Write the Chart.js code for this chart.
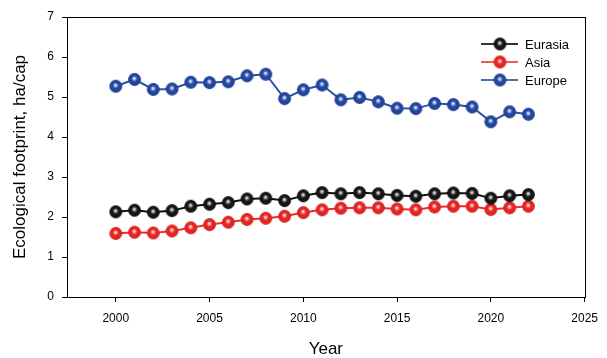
<!DOCTYPE html>
<html>
<head>
<meta charset="utf-8">
<script src="https://cdn.jsdelivr.net/npm/chart.js@4/dist/chart.umd.min.js"></script>
<style>
  html, body { margin: 0; padding: 0; background: #fff; }
  #wrap { width: 607px; height: 358px; }
</style>
</head>
<body>
<div id="wrap"><canvas id="c" width="607" height="358"></canvas></div>
<script>
// Ecological footprint per capita, 2000-2022
const years = [2000, 2001, 2002, 2003, 2004, 2005, 2006, 2007, 2008, 2009, 2010, 2011,
               2012, 2013, 2014, 2015, 2016, 2017, 2018, 2019, 2020, 2021, 2022];
const eurasia = [2.13, 2.17, 2.12, 2.16, 2.27, 2.32, 2.36, 2.45, 2.47, 2.41, 2.53, 2.61,
                 2.58, 2.61, 2.58, 2.54, 2.52, 2.58, 2.60, 2.59, 2.47, 2.53, 2.56];
const asia = [1.59, 1.62, 1.60, 1.65, 1.73, 1.81, 1.87, 1.94, 1.97, 2.02, 2.11, 2.18,
              2.22, 2.23, 2.23, 2.20, 2.18, 2.25, 2.27, 2.27, 2.19, 2.23, 2.27];
const europe = [5.27, 5.44, 5.19, 5.20, 5.37, 5.36, 5.38, 5.53, 5.57, 4.96, 5.18, 5.30,
                4.93, 4.99, 4.88, 4.72, 4.71, 4.84, 4.81, 4.75, 4.38, 4.63, 4.57];
const seriesNames = ['Eurasia', 'Asia', 'Europe'];
const xTicks = [2000, 2005, 2010, 2015, 2020, 2025];
const yTicks = [0, 1, 2, 3, 4, 5, 6, 7];

const FONT = "'Liberation Sans', Arial, sans-serif";

// Shaded sphere marker
function sphere(hi, base, dark, r) {
  const s = Math.ceil(r * 2 + 2);
  const cv = document.createElement('canvas');
  cv.width = s; cv.height = s;
  const g = cv.getContext('2d');
  const c = s / 2;
  const grad = g.createRadialGradient(c - 0.3, c - 1.2, 0.2, c, c, r);
  grad.addColorStop(0, '#ffffff');
  grad.addColorStop(0.18, hi);
  grad.addColorStop(0.45, base);
  grad.addColorStop(0.85, base);
  grad.addColorStop(1, dark);
  g.beginPath();
  g.arc(c, c, r, 0, Math.PI * 2);
  g.fillStyle = grad;
  g.fill();
  return cv;
}

const styles = {
  Eurasia: { line: '#111111', legendLine: '#333333', marker: sphere('#9a9a9a', '#151515', '#050505', 6.4) },
  Asia:    { line: '#e8302c', legendLine: '#ee5a57', marker: sphere('#f5a0a0', '#e52421', '#c41a18', 6.4) },
  Europe:  { line: '#2c50a3', legendLine: '#4a6db5', marker: sphere('#a0b0e0', '#2145a0', '#16317c', 6.4) }
};

function pts(vals) { return vals.map((v, i) => ({ x: years[i], y: v })); }

const seriesData = { Eurasia: eurasia, Asia: asia, Europe: europe };

const datasets = seriesNames.map(name => ({
  label: name,
  data: pts(seriesData[name]),
  borderColor: styles[name].line,
  borderWidth: 2,
  pointStyle: styles[name].marker,
  pointRadius: 6,
  pointHoverRadius: 6,
  tension: 0
}));

// Frame around the plot area and the in-plot legend
const framePlugin = {
  id: 'frame',
  afterDraw(chart) {
    const { ctx, chartArea: a } = chart;
    ctx.save();
    ctx.strokeStyle = '#000';
    ctx.lineWidth = 1;
    ctx.strokeRect(Math.round(a.left) + 0.5, Math.round(a.top) + 0.5,
                   Math.round(a.right - a.left), Math.round(a.bottom - a.top));

    // legend
    const x0 = 481, x1 = 518, xm = 500, tx = 525;
    const rows = [44, 62, 80];
    ctx.font = '13px ' + FONT;
    ctx.textBaseline = 'middle';
    ctx.textAlign = 'left';
    seriesNames.forEach((name, i) => {
      const y = rows[i];
      ctx.beginPath();
      ctx.moveTo(x0, y);
      ctx.lineTo(x1, y);
      ctx.strokeStyle = styles[name].legendLine;
      ctx.lineWidth = 2;
      ctx.stroke();
      const m = styles[name].marker;
      ctx.drawImage(m, xm - m.width / 2, y - m.height / 2);
      ctx.fillStyle = '#000';
      ctx.fillText(name, tx, y + 1);
    });
    ctx.restore();
  }
};

new Chart(document.getElementById('c'), {
  type: 'line',
  data: { datasets },
  options: {
    responsive: false,
    animation: false,
    devicePixelRatio: 1,
    layout: { padding: { top: 17, right: 20, left: 0, bottom: 0 } },
    plugins: {
      legend: { display: false },
      tooltip: { enabled: false }
    },
    scales: {
      x: {
        type: 'linear',
        min: 1997.4,
        max: 2025,
        afterBuildTicks: s => { s.ticks = xTicks.map(v => ({ value: v })); },
        afterFit: s => { s.height = 61; },
        grid: { display: true, drawOnChartArea: false, drawTicks: true, tickLength: 5, tickColor: '#000' },
        border: { display: true, color: '#000', width: 1 },
        ticks: {
          color: '#000',
          font: { family: FONT, size: 12 },
          padding: 9,
          maxRotation: 0,
          callback: v => String(v)
        },
        title: {
          display: true,
          text: 'Year',
          color: '#000',
          font: { family: FONT, size: 17, lineHeight: 1 },
          padding: { top: 0, bottom: 0.5 }
        }
      },
      y: {
        type: 'linear',
        min: 0,
        max: 7,
        afterBuildTicks: s => { s.ticks = yTicks.map(v => ({ value: v })); },
        afterFit: s => { s.width = 67; },
        grid: { display: true, drawOnChartArea: false, drawTicks: true, tickLength: 5, tickColor: '#000' },
        border: { display: true, color: '#000', width: 1 },
        ticks: {
          color: '#000',
          font: { family: FONT, size: 12 },
          padding: 8,
          callback: v => String(v)
        },
        title: {
          display: true,
          text: 'Ecological footprint, ha/cap',
          color: '#000',
          font: { family: FONT, size: 17, lineHeight: 1 },
          padding: { top: 11.5, bottom: 0 }
        }
      }
    }
  },
  plugins: [framePlugin]
});
</script>
</body>
</html>
